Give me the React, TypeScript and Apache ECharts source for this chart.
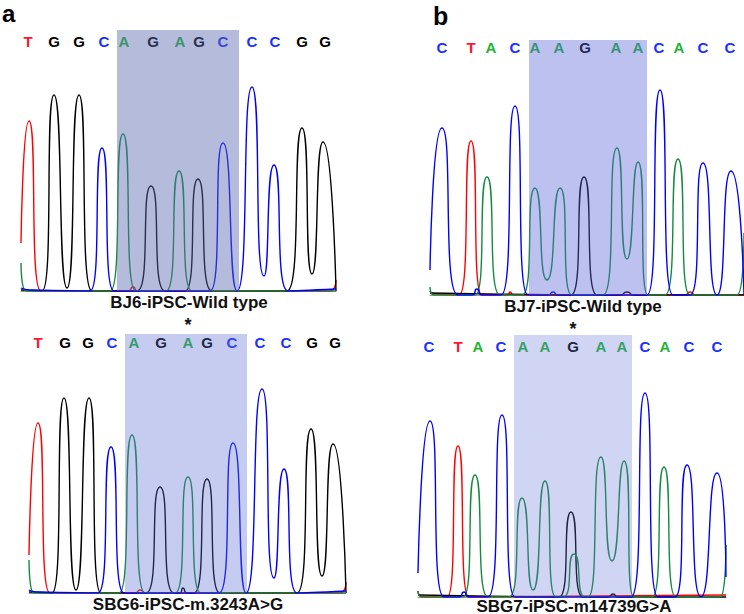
import React, { useEffect, useRef } from "react";
import * as echarts from "echarts";

// ---------- Base calls (letter, scan position) ----------
const basesA1 = ["T", "G", "G", "C", "A", "G", "A", "G", "C", "C", "C", "G", "G"];
const posA1 = [7, 33, 58, 83, 103, 132, 159, 178, 202, 231, 254, 281, 304];
const basesA2 = ["T", "G", "G", "C", "A", "G", "A", "G", "C", "C", "C", "G", "G"];
const posA2 = [9, 36, 59, 83, 105, 132, 159, 178, 203, 231, 257, 283, 306];
const basesB1 = ["C", "T", "A", "C", "A", "A", "G", "A", "A", "C", "A", "C", "C"];
const posB1 = [12, 41, 61, 85, 105, 129, 155, 186, 208, 229, 249, 273, 300];
const basesB2 = ["C", "T", "A", "C", "A", "A", "G", "A", "A", "C", "A", "C", "C"];
const posB2 = [11, 40, 60, 83, 105, 127, 155, 183, 204, 227, 247, 271, 299];

// highlighted region [start, end] in scan units, and mutated base index
const regionA1 = [96, 218];
const regionA2 = [96, 218];
const regionB1 = [99, 217];
const regionB2 = [96, 214];
const mutationA2 = 6;
const mutationB2 = 6;

// ---------- Trace key points [scan, intensity] per dye channel ----------
// Panel a, top: BJ6-iPSC-Wild type
const a1T = [[0, 48], [8, 170], [20, 0], [107, 0], [112, 4], [117, 0], [309, 0], [315, 11]];
const a1G = [[0, 1], [21, 0], [33, 196], [46, 3], [58, 196], [71, 0], [116, 0], [130, 105], [144, 0], [164, 0], [177, 112], [191, 0], [266, 0], [281, 163], [291, 17], [302, 149], [315, 0]];
const a1C = [[0, 3], [12, 1], [69, 0], [81, 143], [93, 0], [189, 0], [202, 148], [216, 0], [231, 204], [243, 15], [253, 126], [267, 0], [315, 2]];
const a1A = [[0, 28], [5, 0], [89, 0], [102, 157], [115, 0], [145, 0], [158, 120], [171, 0], [315, 0]];

// Panel a, bottom: SBG6-iPSC-m.3243A>G
const a2T = [[0, 38], [9, 170], [21, 0], [106, 0], [111, 3], [117, 0], [311, 0], [317, 11]];
const a2G = [[0, 1], [23, 0], [35, 195], [47, 3], [60, 195], [72, 0], [117, 0], [131, 106], [145, 0], [151, 0], [154, 5], [158, 0], [165, 0], [178, 114], [191, 0], [268, 0], [282, 164], [293, 17], [304, 149], [317, 0]];
const a2C = [[0, 3], [10, 1], [69, 0], [82, 146], [95, 0], [190, 0], [204, 150], [217, 0], [233, 204], [245, 15], [255, 124], [268, 0], [317, 2]];
const a2A = [[0, 33], [5, 0], [90, 0], [103, 158], [116, 0], [146, 0], [159, 116], [172, 0], [317, 0]];

// Panel b, top: BJ7-iPSC-Wild type
const b1T = [[0, 4], [5, 1], [29, 0], [41, 154], [52, 0], [78, 0], [80, 3], [84, 0], [255, 0], [260, 3], [266, 0], [314, 0]];
const b1G = [[0, 2], [141, 0], [154, 118], [167, 0], [190, 0], [197, 3], [204, 0], [314, 0]];
const b1C = [[0, 25], [12, 167], [28, 0], [42, 0], [47, 6], [52, 0], [71, 0], [85, 189], [98, 0], [118, 0], [123, 3], [128, 0], [217, 0], [230, 205], [243, 0], [260, 0], [273, 132], [287, 0], [301, 124], [314, 0]];
const b1A = [[0, 8], [4, 0], [45, 0], [57, 118], [70, 0], [92, 0], [105, 107], [117, 15], [130, 107], [142, 0], [173, 0], [187, 147], [197, 36], [208, 133], [218, 0], [235, 0], [248, 136], [260, 0], [307, 0], [314, 62]];

// Panel b, bottom: SBG7-iPSC-m14739G>A
const b2T = [[0, 6], [5, 0], [29, 0], [40, 151], [51, 0], [308, 2]];
const b2G = [[0, 2], [141, 0], [153, 85], [165, 0], [190, 0], [195, 3], [200, 0], [308, 0]];
const b2C = [[0, 24], [12, 176], [26, 0], [41, 0], [46, 5], [51, 0], [70, 0], [84, 182], [97, 0], [213, 0], [227, 204], [240, 0], [257, 0], [269, 132], [283, 0], [299, 124], [308, 20]];
const b2A = [[0, 6], [4, 0], [45, 0], [57, 122], [70, 0], [91, 0], [104, 99], [115, 7], [127, 116], [138, 0], [145, 0], [156, 43], [167, 0], [170, 0], [183, 140], [194, 36], [206, 136], [216, 0], [234, 0], [246, 130], [258, 0], [302, 0], [308, 52]];

// Sample names
const nameA1 = "BJ6-iPSC-Wild type";
const nameA2 = "SBG6-iPSC-m.3243A>G";
const nameB1 = "BJ7-iPSC-Wild type";
const nameB2 = "SBG7-iPSC-m14739G>A";

// ---------- Styling ----------
const FONT = "'Liberation Sans', Arial, Helvetica, sans-serif";
const baseColors: Record<string, string> = { A: "#1fb534", C: "#1a30ff", G: "#000000", T: "#ff1530" };
const traceColors: Record<string, string> = { A: "#148a3e", C: "#0000ff", G: "#000000", T: "#ff0000" };

type Panel = {
  grid: { left: number; top: number; width: number; height: number };
  bases: string[];
  pos: number[];
  letterY: number;
  starOffset: number;
  region: number[];
  overlay: string;
  traces: Record<string, number[][]>;
  name: string;
  nameX: number;
  nameY: number;
  mutation: number | null;
};

const panels: Panel[] = [
  {
    grid: { left: 21, top: 30, width: 315, height: 261 },
    bases: basesA1, pos: posA1, letterY: 250, starOffset: 0, region: regionA1,
    overlay: "rgba(89,104,175,0.45)",
    traces: { T: a1T, G: a1G, C: a1C, A: a1A },
    name: nameA1, nameX: 189, nameY: 302, mutation: null,
  },
  {
    grid: { left: 29, top: 334, width: 317, height: 259 },
    bases: basesA2, pos: posA2, letterY: 251, starOffset: 9, region: regionA2,
    overlay: "rgba(89,109,212,0.35)",
    traces: { T: a2T, G: a2G, C: a2C, A: a2A },
    name: nameA2, nameX: 188, nameY: 604, mutation: mutationA2,
  },
  {
    grid: { left: 430, top: 40, width: 314, height: 255 },
    bases: basesB1, pos: posB1, letterY: 248, starOffset: 0, region: regionB1,
    overlay: "rgba(88,100,215,0.40)",
    traces: { T: b1T, G: b1G, C: b1C, A: b1A },
    name: nameB1, nameX: 583, nameY: 306, mutation: null,
  },
  {
    grid: { left: 418, top: 335, width: 308, height: 262 },
    bases: basesB2, pos: posB2, letterY: 251, starOffset: 6, region: regionB2,
    overlay: "rgba(98,115,215,0.30)",
    traces: { T: b2T, G: b2G, C: b2C, A: b2A },
    name: nameB2, nameX: 574, nameY: 606, mutation: mutationB2,
  },
];

function buildOption() {
  const grids: any[] = [];
  const xAxes: any[] = [];
  const yAxes: any[] = [];
  const series: any[] = [];
  const graphics: any[] = [];

  panels.forEach((p, i) => {
    grids.push({ ...p.grid, containLabel: false });
    xAxes.push({
      type: "value", gridIndex: i, min: 0, max: p.grid.width,
      axisLine: { show: true, lineStyle: { color: "#9a9a9a", width: 1 } },
      axisTick: { show: false }, axisLabel: { show: false }, splitLine: { show: false },
    });
    yAxes.push({
      type: "value", gridIndex: i, min: 0, max: p.grid.height, show: false,
      splitLine: { show: false },
    });

    ["T", "G", "A", "C"].forEach((ch) => {
      series.push({
        type: "line", xAxisIndex: i, yAxisIndex: i,
        data: p.traces[ch], smooth: 0.75, symbol: "none",
        lineStyle: { color: traceColors[ch], width: 1.4 },
        z: 3, clip: true, silent: true,
      });
    });

    // base-call letters, drawn at each call position through the axes
    const bases = p.bases;
    series.push({
      type: "custom", xAxisIndex: i, yAxisIndex: i, z: 4, silent: true, clip: false,
      data: p.pos.map((x, k) => [x, p.letterY, k]),
      renderItem: (_params: any, api: any) => {
        const pt = api.coord([api.value(0), api.value(1)]);
        const b = bases[api.value(2)];
        return {
          type: "text", x: pt[0], y: pt[1],
          style: {
            text: b, fill: baseColors[b], font: `bold 15px ${FONT}`,
            lineHeight: 14, align: "center", verticalAlign: "middle",
          },
        };
      },
    });

    if (p.mutation !== null) {
      series.push({
        type: "custom", xAxisIndex: i, yAxisIndex: i, z: 4, silent: true, clip: false,
        data: [[p.pos[p.mutation], p.grid.height + p.starOffset]],
        renderItem: (_params: any, api: any) => {
          const pt = api.coord([api.value(0), api.value(1)]);
          return {
            type: "text", x: pt[0], y: pt[1],
            style: {
              text: "*", fill: "#111", font: `bold 18px ${FONT}`,
              lineHeight: 10, align: "center", verticalAlign: "middle",
            },
          };
        },
      });
    }

    series.push({
      type: "custom", xAxisIndex: i, yAxisIndex: i, z: 10, silent: true,
      data: [[p.region[0], p.region[1], p.grid.height]],
      renderItem: (_params: any, api: any) => {
        const p0 = api.coord([api.value(0), api.value(2)]);
        const p1 = api.coord([api.value(1), 0]);
        return {
          type: "rect",
          shape: { x: p0[0], y: p0[1], width: p1[0] - p0[0], height: p1[1] - p0[1] },
          style: { fill: p.overlay },
        };
      },
    });

    graphics.push({
      type: "text", x: p.nameX, y: p.nameY, silent: true,
      style: {
        text: p.name, fill: "#111", font: `bold 17px ${FONT}`,
        align: "center", verticalAlign: "middle",
      },
    });
  });

  graphics.push({
    type: "text", x: 2, y: 13, silent: true,
    style: { text: "a", fill: "#000", font: `bold 24px ${FONT}`, align: "left", verticalAlign: "middle" },
  });
  graphics.push({
    type: "text", x: 433, y: 16, silent: true,
    style: { text: "b", fill: "#000", font: `bold 25px ${FONT}`, align: "left", verticalAlign: "middle" },
  });

  return {
    animation: false,
    backgroundColor: "#ffffff",
    grid: grids,
    xAxis: xAxes,
    yAxis: yAxes,
    series,
    graphic: graphics,
  };
}

export default function App() {
  const ref = useRef<HTMLDivElement>(null);
  useEffect(() => {
    document.body.style.margin = "0";
    if (!ref.current) return;
    const chart = echarts.init(ref.current, undefined, { renderer: "svg" });
    chart.setOption(buildOption() as any);
    return () => chart.dispose();
  }, []);
  return <div ref={ref} style={{ width: 744, height: 614 }} />;
}
